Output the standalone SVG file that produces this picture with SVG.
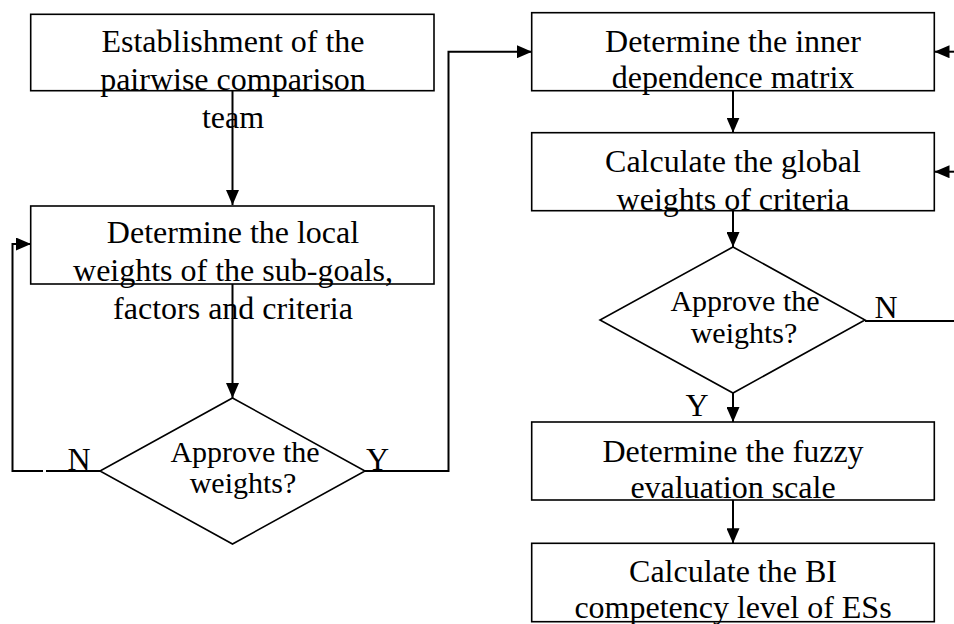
<svg xmlns="http://www.w3.org/2000/svg" width="954" height="624" viewBox="0 0 954 624">
<style>
.box{fill:none;stroke:#000;stroke-width:1.6}
.dia{fill:none;stroke:#000;stroke-width:1.6}
.c{fill:none;stroke:#000;stroke-width:2}
text{font-family:"Liberation Serif","Times New Roman",serif;font-size:32px;fill:#000;text-anchor:middle}
.d{font-size:30px}
</style>
<defs>
<marker id="ah" markerWidth="15" markerHeight="13" refX="15" refY="6.5" orient="auto" markerUnits="userSpaceOnUse">
<path d="M0,0 L15,6.5 L0,13 Z" fill="#000"/>
</marker>
</defs>
<g id="connectors">
<line class="c" x1="232.5" y1="91" x2="232.5" y2="205" marker-end="url(#ah)"/>
<line class="c" x1="232.5" y1="284" x2="232.5" y2="398" marker-end="url(#ah)"/>
<path class="c" d="M100,471 H46"/>
<path class="c" d="M43,471 H12.5 V244 H31" marker-end="url(#ah)"/>
<path class="c" d="M365,471 H448.5 V51.7 H532" marker-end="url(#ah)"/>
<line class="c" x1="733" y1="91" x2="733" y2="132.7" marker-end="url(#ah)"/>
<line class="c" x1="733" y1="211" x2="733" y2="247" marker-end="url(#ah)"/>
<line class="c" x1="733" y1="393" x2="733" y2="422" marker-end="url(#ah)"/>
<line class="c" x1="733" y1="500" x2="733" y2="543.3" marker-end="url(#ah)"/>
<line class="c" x1="865" y1="321" x2="954" y2="321"/>
<line class="c" x1="956" y1="51.7" x2="934.5" y2="51.7" marker-end="url(#ah)"/>
<line class="c" x1="956" y1="171.7" x2="934.5" y2="171.7" marker-end="url(#ah)"/>
<text x="79" y="470">N</text>
<text x="377.5" y="470">Y</text>
<text x="886" y="318">N</text>
<text x="697" y="416">Y</text>
</g>
<g id="n1">
<rect class="box" x="30.7" y="14.3" width="403.3" height="76.4"/>
<text x="233" y="52">Establishment of the</text>
<text x="233" y="90">pairwise comparison</text>
<text x="233" y="128">team</text>
</g>
<g id="n2">
<rect class="box" x="30.7" y="206" width="403.3" height="78"/>
<text x="233" y="243">Determine the local</text>
<text x="233" y="281">weights of the sub-goals,</text>
<text x="233" y="319">factors and criteria</text>
</g>
<g id="d1">
<path class="dia" d="M232.5,398 L365,471 L232.5,544 L100,471 Z"/>
<text class="d" x="245" y="462">Approve the</text>
<text class="d" x="243" y="493">weights?</text>
</g>
<g id="n3">
<rect class="box" x="531.7" y="12.7" width="402.6" height="78"/>
<text x="733" y="52">Determine the inner</text>
<text x="733" y="88">dependence matrix</text>
</g>
<g id="n4">
<rect class="box" x="531.7" y="132.7" width="402.6" height="78"/>
<text x="733" y="172">Calculate the global</text>
<text x="733" y="210">weights of criteria</text>
</g>
<g id="d2">
<path class="dia" d="M733,247 L865,320 L733,393 L600,320 Z"/>
<text class="d" x="745" y="311">Approve the</text>
<text class="d" x="744" y="343">weights?</text>
</g>
<g id="n5">
<rect class="box" x="531.7" y="422" width="402.6" height="78"/>
<text x="733" y="462">Determine the fuzzy</text>
<text x="733" y="498">evaluation scale</text>
</g>
<g id="n6">
<rect class="box" x="531.7" y="543.3" width="402.6" height="78.4"/>
<text x="733" y="582">Calculate the BI</text>
<text x="733" y="618">competency level of ESs</text>
</g>
</svg>
